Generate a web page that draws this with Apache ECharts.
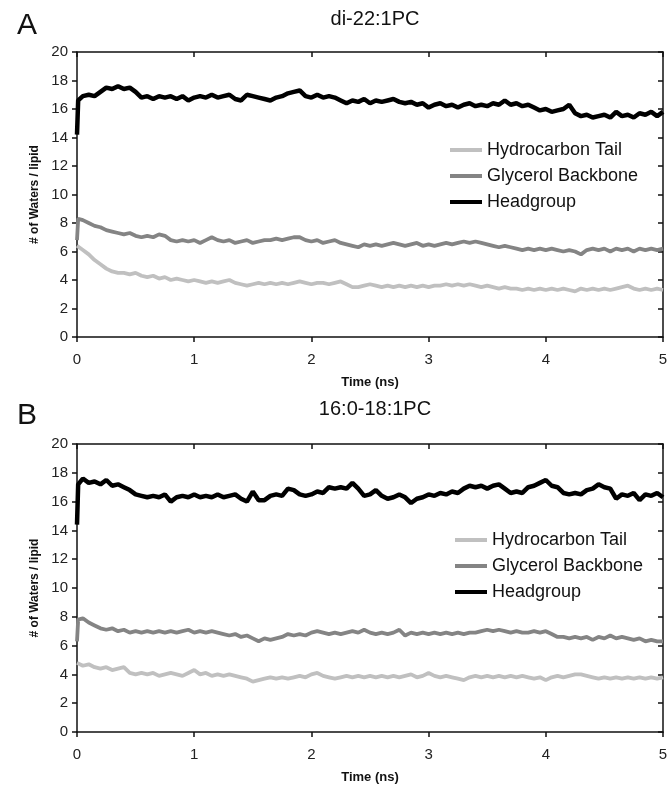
<!DOCTYPE html>
<html>
<head>
<meta charset="utf-8">
<script src="https://cdn.jsdelivr.net/npm/echarts@6/dist/echarts.min.js"></script>
<style>
html,body{margin:0;padding:0;background:#fff;}
#chart{width:671px;height:788px;}
</style>
</head>
<body>
<div id="chart"></div>
<script>
// ---- DATA ----
var panelTitles = ['di-22:1PC', '16:0-18:1PC'];
var panelLetters = ['A', 'B'];
var seriesNames = ['Hydrocarbon Tail', 'Glycerol Backbone', 'Headgroup'];
var xTicks = [0, 1, 2, 3, 4, 5];
var yTicks = [0, 2, 4, 6, 8, 10, 12, 14, 16, 18, 20];

// sample times (ns)
var time = [0, 0.01,
 0.05,0.10,0.15,0.20,0.25,0.30,0.35,0.40,0.45,0.50,
 0.55,0.60,0.65,0.70,0.75,0.80,0.85,0.90,0.95,1.00,
 1.05,1.10,1.15,1.20,1.25,1.30,1.35,1.40,1.45,1.50,
 1.55,1.60,1.65,1.70,1.75,1.80,1.85,1.90,1.95,2.00,
 2.05,2.10,2.15,2.20,2.25,2.30,2.35,2.40,2.45,2.50,
 2.55,2.60,2.65,2.70,2.75,2.80,2.85,2.90,2.95,3.00,
 3.05,3.10,3.15,3.20,3.25,3.30,3.35,3.40,3.45,3.50,
 3.55,3.60,3.65,3.70,3.75,3.80,3.85,3.90,3.95,4.00,
 4.05,4.10,4.15,4.20,4.25,4.30,4.35,4.40,4.45,4.50,
 4.55,4.60,4.65,4.70,4.75,4.80,4.85,4.90,4.95,5.00];

// Panel A (di-22:1PC)
var tailA = [6.4, 6.5,
 6.1,5.8,5.4,5.1,4.8,4.6,4.5,4.5,4.4,4.5,
 4.3,4.2,4.3,4.1,4.2,4.0,4.1,4.0,3.9,4.0,
 3.9,3.8,3.9,3.8,3.9,4.0,3.8,3.7,3.6,3.7,
 3.8,3.7,3.8,3.7,3.8,3.7,3.8,3.9,3.8,3.7,
 3.8,3.8,3.7,3.8,3.9,3.7,3.5,3.5,3.6,3.7,
 3.6,3.5,3.6,3.5,3.6,3.5,3.6,3.5,3.6,3.5,
 3.6,3.6,3.7,3.6,3.7,3.6,3.7,3.6,3.5,3.6,
 3.5,3.4,3.5,3.4,3.4,3.3,3.4,3.3,3.4,3.3,
 3.4,3.3,3.4,3.3,3.2,3.4,3.3,3.4,3.3,3.4,
 3.3,3.4,3.5,3.6,3.4,3.3,3.4,3.3,3.4,3.3];
var glycA = [6.8, 8.3,
 8.2,8.0,7.8,7.7,7.5,7.4,7.3,7.2,7.3,7.1,
 7.0,7.1,7.0,7.2,7.1,6.8,6.7,6.8,6.7,6.8,
 6.6,6.8,7.0,6.8,6.7,6.8,6.6,6.7,6.8,6.6,
 6.7,6.8,6.8,6.9,6.8,6.9,7.0,7.0,6.8,6.7,
 6.8,6.6,6.7,6.8,6.6,6.5,6.4,6.3,6.5,6.4,
 6.5,6.4,6.5,6.6,6.5,6.4,6.5,6.6,6.4,6.5,
 6.4,6.5,6.6,6.5,6.6,6.7,6.6,6.7,6.6,6.5,
 6.4,6.3,6.4,6.3,6.2,6.1,6.2,6.1,6.2,6.1,
 6.2,6.1,6.0,6.1,6.0,5.8,6.1,6.2,6.1,6.2,
 6.0,6.2,6.1,6.2,6.0,6.2,6.1,6.2,6.1,6.2];
var headA = [14.2, 16.6,
 16.9,17.0,16.9,17.2,17.5,17.4,17.6,17.4,17.5,17.2,
 16.8,16.9,16.7,16.9,16.8,16.9,16.7,16.9,16.6,16.8,
 16.9,16.8,17.0,16.8,16.9,17.0,16.7,16.6,17.0,16.9,
 16.8,16.7,16.6,16.8,16.9,17.1,17.2,17.3,16.9,16.8,
 17.0,16.8,16.9,16.8,16.6,16.4,16.6,16.5,16.7,16.4,
 16.6,16.5,16.6,16.7,16.5,16.4,16.5,16.3,16.4,16.1,
 16.3,16.4,16.2,16.3,16.1,16.3,16.4,16.2,16.3,16.2,
 16.4,16.3,16.6,16.3,16.4,16.2,16.3,16.1,15.9,16.0,
 15.8,15.9,16.0,16.3,15.7,15.5,15.6,15.4,15.5,15.6,
 15.4,15.8,15.5,15.6,15.4,15.7,15.6,15.8,15.5,15.8];

// Panel B (16:0-18:1PC)
var tailB = [4.8, 4.7,
 4.6,4.7,4.5,4.4,4.5,4.3,4.4,4.5,4.1,4.0,
 4.1,4.0,4.1,3.9,4.0,4.1,4.0,3.9,4.1,4.3,
 4.0,4.1,3.9,4.0,3.9,4.0,3.9,3.8,3.7,3.5,
 3.6,3.7,3.8,3.7,3.8,3.7,3.8,3.9,3.8,4.0,
 4.1,3.9,3.8,3.7,3.8,3.9,3.8,3.9,3.8,3.9,
 3.8,3.9,3.8,3.9,3.8,3.9,4.0,3.8,3.9,4.1,
 3.9,3.8,3.9,3.8,3.7,3.6,3.8,3.9,3.8,3.9,
 3.8,3.9,3.8,3.9,3.8,3.9,3.8,3.7,3.8,3.6,
 3.8,3.9,3.8,3.9,4.0,4.0,3.9,3.8,3.7,3.8,
 3.7,3.8,3.7,3.8,3.7,3.8,3.7,3.8,3.7,3.8];
var glycB = [6.3, 7.8,
 7.9,7.6,7.4,7.2,7.1,7.2,7.0,7.1,6.9,7.0,
 6.9,7.0,6.9,7.0,6.9,7.0,6.9,7.0,7.1,6.9,
 7.0,6.9,7.0,6.9,6.8,6.7,6.8,6.6,6.7,6.5,
 6.3,6.5,6.4,6.5,6.6,6.8,6.7,6.8,6.7,6.9,
 7.0,6.9,6.8,6.9,6.8,6.9,7.0,6.9,7.1,6.9,
 6.8,6.9,6.8,6.9,7.1,6.7,6.9,6.8,6.9,6.8,
 6.9,6.8,6.9,6.8,6.9,6.8,6.9,6.9,7.0,7.1,
 7.0,7.1,7.0,6.9,7.0,6.9,6.9,7.0,6.9,7.0,
 6.8,6.6,6.6,6.5,6.6,6.5,6.6,6.4,6.6,6.5,
 6.7,6.5,6.6,6.5,6.4,6.5,6.3,6.4,6.3,6.3];
var headB = [14.4, 17.2,
 17.6,17.3,17.4,17.2,17.5,17.1,17.2,17.0,16.8,16.5,
 16.4,16.3,16.4,16.3,16.5,16.0,16.3,16.4,16.3,16.5,
 16.3,16.4,16.3,16.5,16.3,16.4,16.5,16.2,16.0,16.7,
 16.1,16.1,16.4,16.5,16.4,16.9,16.8,16.5,16.4,16.5,
 16.7,16.6,17.0,16.9,17.0,16.9,17.3,16.9,16.4,16.5,
 16.8,16.4,16.2,16.3,16.5,16.3,15.9,16.2,16.3,16.5,
 16.4,16.6,16.5,16.7,16.6,16.9,17.1,17.0,17.1,16.9,
 17.1,17.2,16.9,16.6,16.7,16.6,17.0,17.1,17.3,17.5,
 17.1,17.0,16.6,16.5,16.6,16.5,16.8,16.9,17.2,17.0,
 16.9,16.2,16.5,16.4,16.6,16.1,16.5,16.4,16.6,16.3];

var panels = [
  {tail: tailA, glyc: glycA, head: headA},
  {tail: tailB, glyc: glycB, head: headB}
];
var colors = ['#c0c0c0', '#848484', '#000000'];

function pairs(ys) {
  return ys.map(function (y, i) { return [time[i], y]; });
}

// ---- LAYOUT ----
var FONT = "'Liberation Sans', Arial, sans-serif";
var grids = [
  {left: 77, top: 52, width: 586, height: 285},
  {left: 77, top: 444, width: 586, height: 288}
];
var titleTops = [4, 394];
var letterTops = [6, 396];
var legendTops = [141, 531];
var legendLefts = [450, 455];

var option = {
  animation: false,
  backgroundColor: '#fff',
  title: [],
  legend: [],
  grid: grids,
  xAxis: [],
  yAxis: [],
  series: []
};

var axisLine = {show: true, onZero: false, lineStyle: {color: '#111', width: 1.5}};

for (var p = 0; p < 2; p++) {
  option.title.push({
    text: panelTitles[p], left: 370, top: titleTops[p], textAlign: 'center',
    textStyle: {fontFamily: FONT, fontSize: 20, fontWeight: 'normal', color: '#111'}
  });
  option.title.push({
    text: panelLetters[p], left: 12, top: letterTops[p],
    textStyle: {fontFamily: FONT, fontSize: 30, fontWeight: 'normal', color: '#111'}
  });
  option.legend.push({
    orient: 'vertical', left: legendLefts[p], top: legendTops[p], padding: 0,
    itemWidth: 32, itemHeight: 4, itemGap: 8, icon: 'rect',
    data: seriesNames.slice(),
    textStyle: {fontFamily: FONT, fontSize: 18, color: '#111'},
    selectedMode: false
  });
  // bottom x axis
  option.xAxis.push({
    type: 'value', gridIndex: p, position: 'bottom', min: xTicks[0], max: xTicks[xTicks.length - 1], interval: 1,
    name: 'Time (ns)', nameLocation: 'middle', nameGap: 39,
    nameTextStyle: {fontFamily: FONT, fontSize: 13, fontWeight: 'bold', color: '#111'},
    axisLine: axisLine, splitLine: {show: false},
    axisTick: {show: true, inside: false, length: 5, lineStyle: {color: '#111', width: 1.5}},
    axisLabel: {fontFamily: FONT, fontSize: 15, color: '#222', margin: 15}
  });
  // top mirror
  option.xAxis.push({
    type: 'value', gridIndex: p, position: 'top', min: xTicks[0], max: xTicks[xTicks.length - 1], interval: 1,
    axisLine: axisLine, splitLine: {show: false},
    axisTick: {show: true, inside: true, length: 5, lineStyle: {color: '#111', width: 1.5}},
    axisLabel: {show: false}
  });
  // left y axis
  option.yAxis.push({
    type: 'value', gridIndex: p, position: 'left', min: yTicks[0], max: yTicks[yTicks.length - 1], interval: 2,
    name: '# of Waters / lipid', nameLocation: 'middle', nameGap: 36, nameRotate: 90,
    nameTextStyle: {fontFamily: FONT, fontSize: 12, fontWeight: 'bold', color: '#111'},
    axisLine: axisLine, splitLine: {show: false},
    axisTick: {show: true, inside: false, length: 5, lineStyle: {color: '#111', width: 1.5}},
    axisLabel: {fontFamily: FONT, fontSize: 15, color: '#222', margin: 9}
  });
  // right mirror
  option.yAxis.push({
    type: 'value', gridIndex: p, position: 'right', min: yTicks[0], max: yTicks[yTicks.length - 1], interval: 2,
    axisLine: axisLine, splitLine: {show: false},
    axisTick: {show: true, inside: true, length: 5, lineStyle: {color: '#111', width: 1.5}},
    axisLabel: {show: false}
  });
  var d = panels[p];
  var vals = [d.tail, d.glyc, d.head];
  var widths = [3.8, 3.8, 4.5];
  for (var s = 0; s < 3; s++) {
    option.series.push({
      type: 'line', name: seriesNames[s], xAxisIndex: p * 2, yAxisIndex: p * 2,
      data: pairs(vals[s]), showSymbol: false, symbol: 'none',
      color: colors[s],
      lineStyle: {color: colors[s], width: widths[s]},
      z: 2 + s
    });
  }
}

var chart = echarts.init(document.getElementById('chart'), null, {renderer: 'canvas'});
chart.setOption(option);
</script>
</body>
</html>
